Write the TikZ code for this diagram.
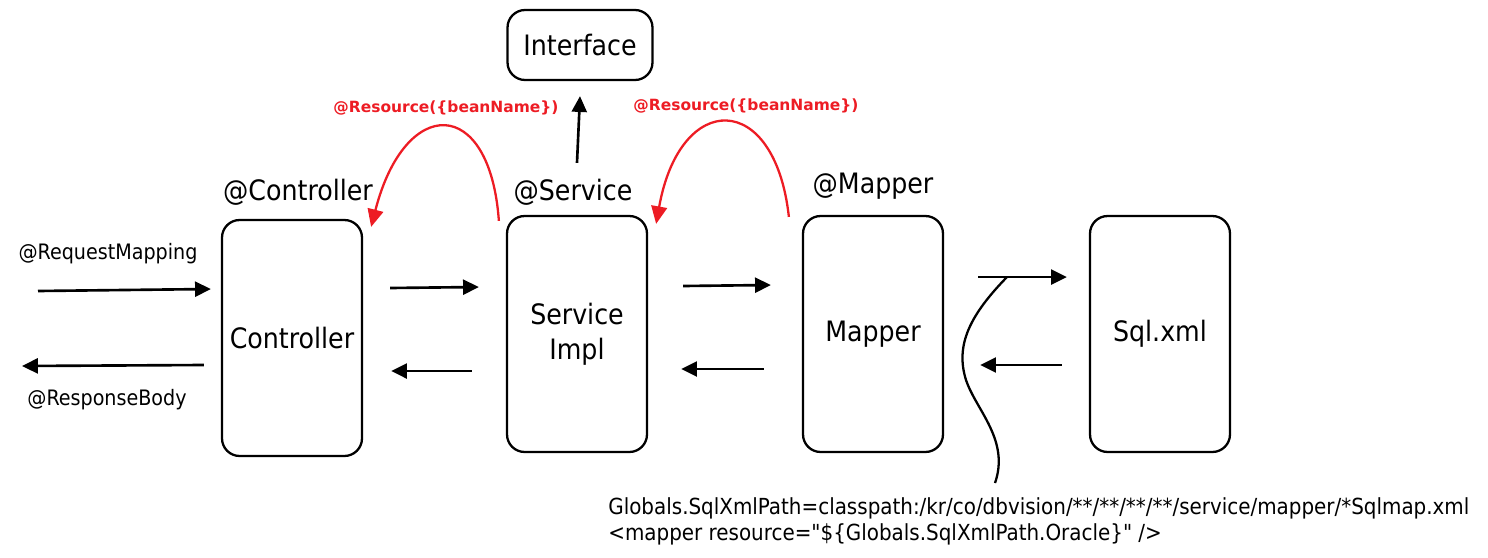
\documentclass[tikz,border=0pt]{standalone}
\usepackage{fontspec}
\setmainfont{DejaVu Sans Condensed}
\newfontfamily\wideface{DejaVu Sans}
\usepackage{xcolor}
\usepackage{tikz}
\usetikzlibrary{arrows.meta, calc}
\definecolor{InjectRed}{HTML}{ED1C24}

\begin{document}
\begin{tikzpicture}[
  x=0.02cm, y=-0.02cm,
  layerbox/.style={draw, line width=1.3pt, rounded corners=10pt, minimum width=2.8cm, minimum height=4.72cm, align=center, font=\fontsize{16}{20}\selectfont},
  tagtext/.style={font=\fontsize{16}{20}\selectfont},
  smalltext/.style={font=\fontsize{12.1}{14.7}\selectfont},
  pathtext/.style={font=\fontsize{12.6}{14.7}\selectfont},
  flow/.style={-{Triangle[length=9pt, width=8.5pt]}, line width=1.5pt},
  inject/.style={-{Triangle[length=10pt, width=9pt]}, line width=1.3pt, InjectRed},
  injectlabel/.style={font=\wideface\bfseries\fontsize{8.8}{10}\selectfont, text=InjectRed}
  ]
  \useasboundingbox (0,0) rectangle (1488,558);
  % Layers
  \node[layerbox] (ctrl) at (292,338) {Controller};
  \node[layerbox] (svc) at (577,334) {Service\\Impl};
  \node[layerbox] (mapper) at (873,334) {Mapper};
  \node[layerbox] (sqlxml) at (1160,334) {Sql.xml};
  \node[layerbox, minimum width=2.9cm, minimum height=1.4cm] (iface) at (580,45) {Interface};
  % Annotations
  \node[tagtext] (ctrltag) at (298,192) {@Controller};
  \node[tagtext] (svctag) at (573,192) {@Service};
  \node[tagtext] (maptag) at (873,186) {@Mapper};
  \node[smalltext] (reqtag) at (108,254) {@RequestMapping};
  \node[smalltext] (restag) at (107,400) {@ResponseBody};
  \node[injectlabel] (res1) at (446,108) {@Resource(\{beanName\})};
  \node[injectlabel] (res2) at (746,106) {@Resource(\{beanName\})};
  \node[pathtext, align=left, anchor=north west, inner sep=0pt] (sqlpath) at (608,497)
    {Globals.SqlXmlPath=classpath:/kr/co/dbvision/**/**/**/**/service/mapper/*Sqlmap.xml\\
     <mapper resource=\textquotedbl\$\{Globals.SqlXmlPath.Oracle\}\textquotedbl{} />};
  \coordinate (clientin) at (38,291);
  \coordinate (clientout) at (22,366);
  % Request / response
  \draw[flow] (clientin) -- ($(ctrl.west)+(-10,-49)$);
  \draw[flow] ($(ctrl.west)+(-17,27)$) -- (clientout);
  % Controller <-> Service
  \draw[flow] ($(ctrl.east)+(27,-50)$) -- ($(svc.west)+(-27,-47)$);
  \draw[flow] ($(svc.west)+(-34,37)$) -- ($(ctrl.east)+(28,33)$);
  % Service <-> Mapper
  \draw[flow] ($(svc.east)+(35,-48)$) -- ($(mapper.west)+(-31,-49)$);
  \draw[flow] ($(mapper.west)+(-38,35)$) -- ($(svc.east)+(33,35)$);
  % Mapper <-> Sql.xml
  \draw[flow] ($(mapper.east)+(34,-57)$) -- ($(sqlxml.west)+(-22,-57)$);
  \draw[flow] ($(sqlxml.west)+(-27,31)$) -- ($(mapper.east)+(36,31)$);
  % Service -> Interface
  \draw[flow] ($(svc.north)+(0,-52)$) -- ($(iface.south)+(0,15)$);
  % Injection
  \draw[inject] ($(svc.north west)+(-7,6)$) .. controls (490,95) and (405,95) .. ($(ctrl.north east)+(8,8)$);
  \draw[inject] ($(mapper.north west)+(-13,2)$) .. controls (775,90) and (680,90) .. ($(svc.north east)+(8,9)$);
  % Path link
  \draw[line width=1.3pt] (1007,277) .. controls (970,315) and (955,345) .. (966,380) .. controls (976,410) and (1010,440) .. (995,483);
\end{tikzpicture}
\end{document}
